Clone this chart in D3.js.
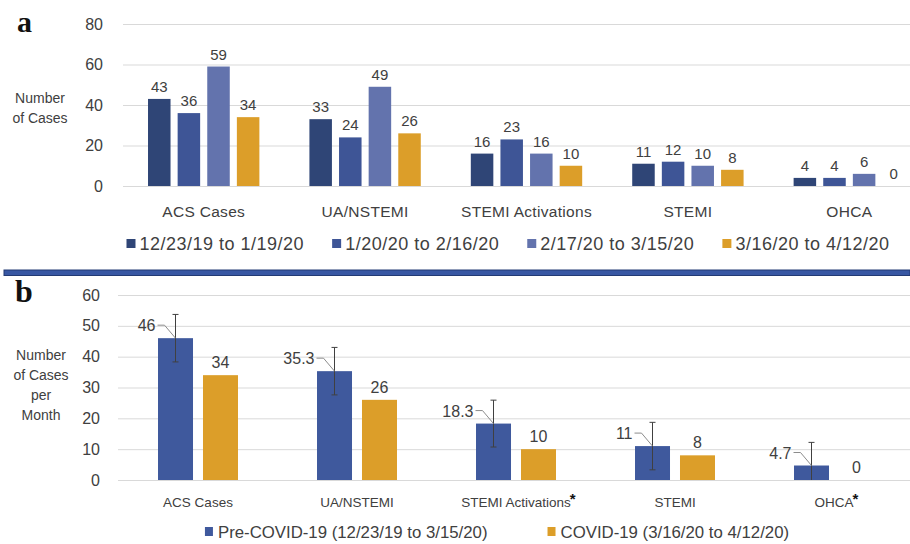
<!DOCTYPE html>
<html>
<head>
<meta charset="utf-8">
<script src="https://cdn.jsdelivr.net/npm/d3@7"></script>
<style>
  body { margin: 0; background: #fff; }
  svg { display: block; font-family: "Liberation Sans", Arial, sans-serif; }
  .grid line { stroke: #d9d9d9; }
  .grid .domain { display: none; }
</style>
</head>
<body>
<svg id="chart" width="910" height="544"></svg>
<script>
// ---- data, panel a ----
const categoriesA = ["ACS Cases", "UA/NSTEMI", "STEMI Activations", "STEMI", "OHCA"];
const periodsA = ["12/23/19 to 1/19/20", "1/20/20 to 2/16/20", "2/17/20 to 3/15/20", "3/16/20 to 4/12/20"];
const period1 = [43, 33, 16, 11, 4];
const period2 = [36, 24, 23, 12, 4];
const period3 = [59, 49, 16, 10, 6];
const period4 = [34, 26, 10, 8, 0];
const ticksA = [0, 20, 40, 60, 80];

// ---- data, panel b ----
const categoriesB = ["ACS Cases", "UA/NSTEMI", "STEMI Activations", "STEMI", "OHCA"];
const starredB = ["STEMI Activations", "OHCA"];
const groupsB = ["Pre-COVID-19 (12/23/19 to 3/15/20)", "COVID-19 (3/16/20 to 4/12/20)"];
const preCovid = [46, 35.3, 18.3, 11, 4.7];
const preCovidErr = [7.7, 7.7, 7.6, 7.7, 7.5];
const covid = [34, 26, 10, 8, 0];
const ticksB = [0, 10, 20, 30, 40, 50, 60];

const colorsA = ["#2f4576", "#3e5596", "#6373ad", "#dc9e29"];
const colorsB = ["#3f599d", "#dc9e29"];
const txt = "#404040";

const svg = d3.select("#chart");
svg.append("rect").attr("width", 910).attr("height", 544).attr("fill", "#fff");

// ================= panel a =================
const yA = d3.scaleLinear().domain([0, 80]).range([186, 24]);
const x0A = d3.scaleBand().domain(categoriesA).range([123, 930])
    .paddingInner(0.31).paddingOuter(0.155);
const x1A = d3.scaleBand().domain(d3.range(4)).range([0, x0A.bandwidth()]).paddingInner(0.24);

const gA = svg.append("g");

gA.append("g")
    .attr("class", "grid")
    .attr("transform", "translate(123,0)")
    .call(d3.axisLeft(yA).tickValues(ticksA).tickSize(-(930 - 123)).tickPadding(20))
    .call(g => g.selectAll("text").attr("fill", txt).style("font-size", "16px"));

const seriesA = [period1, period2, period3, period4];
seriesA.forEach((vals, s) => {
  const grp = gA.append("g");
  grp.selectAll("rect").data(vals).join("rect")
      .attr("x", (d, i) => x0A(categoriesA[i]) + x1A(s))
      .attr("y", d => yA(d))
      .attr("width", x1A.bandwidth())
      .attr("height", d => yA(0) - yA(d))
      .attr("fill", colorsA[s]);
  grp.selectAll("text").data(vals).join("text")
      .attr("x", (d, i) => x0A(categoriesA[i]) + x1A(s) + x1A.bandwidth() / 2)
      .attr("y", d => yA(d) - 7)
      .attr("text-anchor", "middle")
      .attr("fill", txt)
      .style("font-size", "15px")
      .text(d => d);
});

gA.append("g")
    .attr("transform", "translate(0,186)")
    .call(d3.axisBottom(x0A).tickSize(0).tickPadding(20))
    .call(g => g.select(".domain").remove())
    .call(g => g.selectAll("text").attr("fill", txt).style("font-size", "15.5px")
        .style("letter-spacing", "0.3px").attr("font-family", null));

gA.append("text").attr("x", 40).attr("y", 103).attr("text-anchor", "middle")
    .attr("fill", txt).style("font-size", "14px").text("Number");
gA.append("text").attr("x", 40).attr("y", 123).attr("text-anchor", "middle")
    .attr("fill", txt).style("font-size", "14px").text("of Cases");

gA.append("text").attr("x", 17).attr("y", 32)
    .style("font-family", "'Liberation Serif', 'DejaVu Serif', serif")
    .style("font-weight", "bold").style("font-size", "30px").attr("fill", "#111").text("a");

// legend a
const legA = gA.append("g");
let lx = 0;
periodsA.forEach((p, i) => {
  const it = legA.append("g").attr("transform", `translate(${lx},0)`);
  it.append("rect").attr("x", 0).attr("y", -5).attr("width", 9).attr("height", 9).attr("fill", colorsA[i]);
  const t = it.append("text").attr("x", 13).attr("y", 6).attr("fill", txt)
      .style("font-size", "18px").style("letter-spacing", "0.5px").text(p);
  lx += 13 + t.node().getComputedTextLength() + 28;
});
legA.attr("transform", `translate(${508 - (lx - 28) / 2},244)`);

// separator
svg.append("rect").attr("x", 4).attr("y", 270).attr("width", 906).attr("height", 5.5)
    .attr("fill", "#3857a3").attr("stroke", "#233a74").attr("stroke-width", 1);

// ================= panel b =================
const yB = d3.scaleLinear().domain([0, 60]).range([480, 295]);
const x0B = d3.scaleBand().domain(categoriesB).range([118.5, 913.5])
    .paddingInner(0.497).paddingOuter(0.2485);
const x1B = d3.scaleBand().domain([0, 1]).range([0, x0B.bandwidth()]).paddingInner(0.222);

const gB = svg.append("g");

gB.append("g")
    .attr("class", "grid")
    .attr("transform", "translate(118,0)")
    .call(d3.axisLeft(yB).tickValues(ticksB).tickSize(-(930 - 118)).tickPadding(18))
    .call(g => g.selectAll("text").attr("fill", txt).style("font-size", "16px"));

[preCovid, covid].forEach((vals, s) => {
  gB.append("g").selectAll("rect").data(vals).join("rect")
      .attr("x", (d, i) => x0B(categoriesB[i]) + x1B(s))
      .attr("y", d => yB(d))
      .attr("width", x1B.bandwidth())
      .attr("height", d => yB(0) - yB(d))
      .attr("fill", colorsB[s]);
});

// error bars on pre-COVID bars
const cx = i => x0B(categoriesB[i]) + x1B(0) + x1B.bandwidth() / 2;
const eb = gB.append("g").attr("stroke", "#404040").attr("stroke-width", 1);
preCovid.forEach((v, i) => {
  const lo = yB(Math.max(0, v - preCovidErr[i])), hi = yB(v + preCovidErr[i]);
  eb.append("line").attr("x1", cx(i)).attr("x2", cx(i)).attr("y1", lo).attr("y2", hi);
  eb.append("line").attr("x1", cx(i) - 3).attr("x2", cx(i) + 3).attr("y1", hi).attr("y2", hi);
  if (v - preCovidErr[i] > 0)
    eb.append("line").attr("x1", cx(i) - 3).attr("x2", cx(i) + 3).attr("y1", lo).attr("y2", lo);
});

// pre-COVID labels with leader lines
preCovid.forEach((v, i) => {
  const tx = cx(i) - 20, ty = yB(v) - 13;
  gB.append("text").attr("x", tx).attr("y", ty + 6).attr("text-anchor", "end")
      .attr("fill", txt).style("font-size", "16px").text(v);
  gB.append("path")
      .attr("d", `M${tx + 2},${ty} L${tx + 9},${ty} L${cx(i)},${yB(v)}`)
      .attr("fill", "none").attr("stroke", "#8c8c8c").attr("stroke-width", 1);
});

// COVID labels
gB.append("g").selectAll("text").data(covid).join("text")
    .attr("x", (d, i) => x0B(categoriesB[i]) + x1B(1) + x1B.bandwidth() / 2)
    .attr("y", d => yB(d) - 7)
    .attr("text-anchor", "middle")
    .attr("fill", txt)
    .style("font-size", "16px")
    .text(d => d);

// category labels; asterisk added as a separate mark so the name stays centred
gB.append("g")
    .attr("transform", "translate(0,480)")
    .call(d3.axisBottom(x0B).tickSize(0).tickPadding(17))
    .call(g => g.select(".domain").remove())
    .call(g => g.selectAll("text").attr("fill", txt).style("font-size", "13.5px")
        .attr("font-family", null))
    .call(g => g.selectAll(".tick").filter(d => starredB.includes(d)).each(function () {
      const t = d3.select(this).select("text");
      const w = t.node().getComputedTextLength();
      d3.select(this).append("text").attr("x", w / 2 + 2).attr("y", 24)
          .attr("fill", "#111").style("font-size", "15px").style("font-weight", "bold").text("*");
    }));

["Number", "of Cases", "per", "Month"].forEach((l, i) => {
  gB.append("text").attr("x", 41).attr("y", 360 + i * 20).attr("text-anchor", "middle")
      .attr("fill", txt).style("font-size", "14px").text(l);
});

gB.append("text").attr("x", 15).attr("y", 302)
    .style("font-family", "'Liberation Serif', 'DejaVu Serif', serif")
    .style("font-weight", "bold").style("font-size", "32px").attr("fill", "#111").text("b");

// legend b
const legB = gB.append("g");
let bx = 0;
groupsB.forEach((p, i) => {
  const it = legB.append("g").attr("transform", `translate(${bx},0)`);
  it.append("rect").attr("x", 0).attr("y", -5).attr("width", 8).attr("height", 9).attr("fill", colorsB[i]);
  const t = it.append("text").attr("x", 13).attr("y", 6)
      .attr("fill", txt).style("font-size", "16.8px").text(p);
  bx += 13 + t.node().getComputedTextLength() + 60;
});
legB.attr("transform", `translate(${497 - (bx - 60) / 2},532)`);
</script>
</body>
</html>
